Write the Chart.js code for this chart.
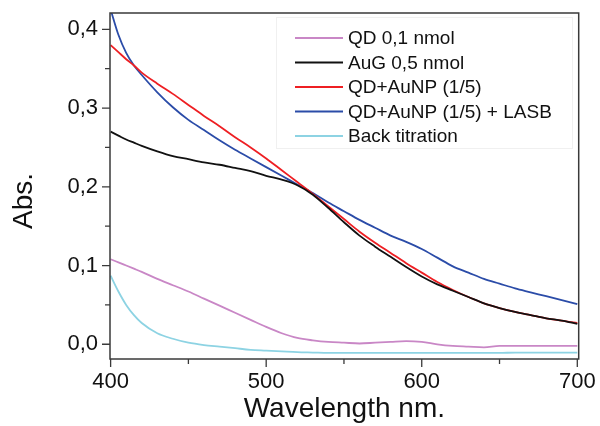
<!DOCTYPE html>
<html>
<head>
<meta charset="utf-8">
<script src="https://cdn.jsdelivr.net/npm/chart.js@4.4.1/dist/chart.umd.min.js"></script>
<style>
  html, body { margin: 0; padding: 0; background: #fff; }
  #wrap { width: 600px; height: 426px; position: relative; }
</style>
</head>
<body>
<div id="wrap"><canvas id="spectra"></canvas></div>
<script>
// wavelength grid (nm)
const wavelength = [400, 405, 410, 415, 420, 430, 440, 450, 460, 470, 480, 490, 500, 510, 520, 530, 540, 550,
    560, 570, 580, 590, 600, 610, 620, 630, 640, 650, 660, 670, 680, 690, 700];

// absorbance
const qd = [0.108, 0.104, 0.100, 0.096, 0.092, 0.083, 0.075, 0.067, 0.058, 0.049, 0.040, 0.031, 0.022, 0.014,
    0.008, 0.005, 0.003, 0.002, 0.001, 0.002, 0.003, 0.004, 0.003, 0.000, -0.002, -0.003, -0.004, -0.002,
    -0.002, -0.002, -0.002, -0.002, -0.002];
const aug = [0.270, 0.265, 0.260, 0.256, 0.252, 0.245, 0.239, 0.235, 0.231, 0.228, 0.224, 0.220, 0.214, 0.209,
    0.202, 0.190, 0.173, 0.155, 0.138, 0.124, 0.111, 0.098, 0.086, 0.076, 0.068, 0.060, 0.052, 0.046,
    0.041, 0.037, 0.033, 0.030, 0.026];
const qdAunp = [0.380, 0.371, 0.362, 0.354, 0.345, 0.331, 0.318, 0.304, 0.290, 0.277, 0.263, 0.250, 0.236, 0.221,
    0.206, 0.191, 0.175, 0.159, 0.143, 0.129, 0.116, 0.103, 0.091, 0.079, 0.069, 0.060, 0.052, 0.046,
    0.041, 0.037, 0.033, 0.030, 0.027];
const qdAunpLasb = [0.425, 0.393, 0.370, 0.354, 0.342, 0.320, 0.301, 0.285, 0.272, 0.259, 0.247, 0.236, 0.225,
    0.214, 0.203, 0.192, 0.180, 0.169, 0.158, 0.148, 0.138, 0.130, 0.121, 0.110, 0.099, 0.091, 0.083,
    0.077, 0.071, 0.066, 0.061, 0.056, 0.051];
const backTitration = [0.087, 0.067, 0.050, 0.037, 0.027, 0.014, 0.007, 0.002, -0.001, -0.003, -0.005, -0.007,
    -0.008, -0.009, -0.010, -0.0105, -0.011, -0.011, -0.011, -0.011, -0.011, -0.011, -0.011, -0.011, -0.011,
    -0.011, -0.011, -0.011, -0.0105, -0.0105, -0.0105, -0.0105, -0.0105];

const seriesLabels = ['QD 0,1 nmol', 'AuG 0,5 nmol', 'QD+AuNP (1/5)', 'QD+AuNP (1/5) + LASB', 'Back titration'];
const seriesColors = ['#c987c6', '#111111', '#ee1f23', '#2b4ca8', '#8dd3e3'];

// axis ticks
const xTicks = [400, 450, 500, 550, 600, 650, 700];
const yTicks = [0, 0.05, 0.1, 0.15, 0.2, 0.25, 0.3, 0.35, 0.4];

const FONT = "'Liberation Sans', Arial, Helvetica, sans-serif";
const FRAME = '#3a3a3a';

function toPoints(values) {
    return wavelength.map((w, i) => ({ x: w, y: values[i] }));
}

// frame, outward ticks, y title and the boxed legend
const decorations = {
    id: 'decorations',
    afterDraw(chart) {
        const { ctx, chartArea } = chart;
        const xs = chart.scales.x;
        const ys = chart.scales.y;
        ctx.save();
        ctx.strokeStyle = FRAME;
        ctx.lineWidth = 1.5;
        ctx.strokeRect(chartArea.left, chartArea.top, chartArea.right - chartArea.left, chartArea.bottom - chartArea.top);

        ctx.lineWidth = 1.3;
        ctx.beginPath();
        xs.ticks.forEach(t => {
            const px = xs.getPixelForValue(t.value);
            const len = t.value % 100 === 0 ? 8 : 5;
            ctx.moveTo(px, chartArea.bottom);
            ctx.lineTo(px, chartArea.bottom + len);
        });
        ys.ticks.forEach(t => {
            const py = ys.getPixelForValue(t.value);
            const len = Math.abs(Math.round(t.value * 10) - t.value * 10) < 1e-6 ? 8 : 5;
            ctx.moveTo(chartArea.left, py);
            ctx.lineTo(chartArea.left - len, py);
        });
        ctx.stroke();

        // y axis title
        ctx.fillStyle = '#111';
        ctx.font = `28px ${FONT}`;
        ctx.translate(24, 201);
        ctx.rotate(-Math.PI / 2);
        ctx.textAlign = 'center';
        ctx.textBaseline = 'middle';
        ctx.fillText('Abs.', 0, 0);
        ctx.restore();

        // legend
        ctx.save();
        ctx.strokeStyle = '#f0f0f0';
        ctx.lineWidth = 1;
        ctx.strokeRect(276.5, 17.5, 296, 131);
        ctx.font = `19px ${FONT}`;
        ctx.textBaseline = 'middle';
        ctx.fillStyle = '#111';
        chart.data.datasets.forEach((ds, i) => {
            const y = 38 + i * 24.5;
            ctx.strokeStyle = ds.borderColor;
            ctx.lineWidth = 1.8;
            ctx.beginPath();
            ctx.moveTo(295, y);
            ctx.lineTo(343, y);
            ctx.stroke();
            ctx.fillText(ds.label, 348, y + 1);
        });
        ctx.restore();
    }
};

new Chart(document.getElementById('spectra'), {
    type: 'line',
    data: {
        datasets: seriesLabels.map((label, i) => ({
            label,
            data: toPoints([qd, aug, qdAunp, qdAunpLasb, backTitration][i]),
            borderColor: seriesColors[i],
            backgroundColor: seriesColors[i],
            borderWidth: 1.8,
            pointRadius: 0,
            cubicInterpolationMode: 'monotone',
            fill: false
        }))
    },
    options: {
        responsive: true,
        maintainAspectRatio: false,
        animation: false,
        events: [],
        layout: { padding: { top: 13, right: 21.3, left: 0, bottom: 0 } },
        plugins: {
            legend: { display: false },
            tooltip: { enabled: false }
        },
        scales: {
            x: {
                type: 'linear',
                min: 399.6,
                max: 700.9,
                grid: { display: false, drawTicks: false },
                border: { display: false },
                afterBuildTicks: scale => { scale.ticks = xTicks.map(v => ({ value: v })); },
                afterFit: scale => {
                    scale.height = 67;
                    scale.paddingLeft = 0;
                    scale.paddingRight = 0;
                },
                ticks: {
                    padding: 10,
                    maxRotation: 0,
                    autoSkip: false,
                    color: '#111',
                    font: { family: FONT, size: 22 },
                    callback: v => (v % 100 === 0 ? String(v) : '')
                },
                title: {
                    display: true,
                    text: 'Wavelength nm.',
                    color: '#111',
                    font: { family: FONT, size: 28 },
                    padding: { top: 0, bottom: 0 }
                }
            },
            y: {
                min: -0.0187,
                max: 0.4207,
                grid: { display: false, drawTicks: false },
                border: { display: false },
                afterBuildTicks: scale => { scale.ticks = yTicks.map(v => ({ value: v })); },
                afterFit: scale => {
                    scale.width = 110;
                    scale.paddingTop = 0;
                    scale.paddingBottom = 0;
                },
                ticks: {
                    padding: 12,
                    autoSkip: false,
                    color: '#111',
                    font: { family: FONT, size: 22 },
                    callback: v => {
                        const tenth = Math.round(v * 10);
                        if (Math.abs(tenth - v * 10) > 1e-6) return '';
                        return (tenth / 10).toFixed(1).replace('.', ',');
                    }
                }
            }
        }
    },
    plugins: [decorations]
});
</script>
</body>
</html>
